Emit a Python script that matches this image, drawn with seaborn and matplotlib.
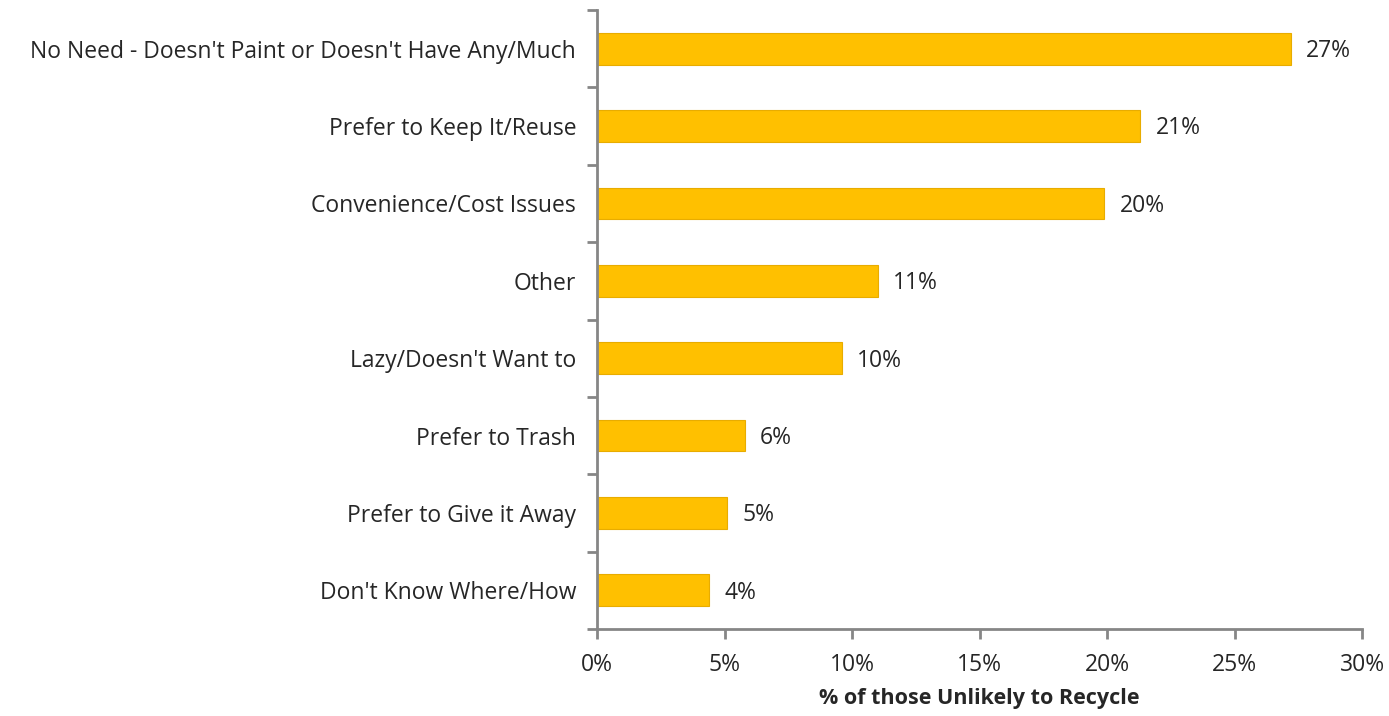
import pandas as pd
import seaborn as sns
from matplotlib import pyplot as plt
import matplotlib.ticker as ticker

reasons = ["No Need - Doesn't Paint or Doesn't Have Any/Much",
           "Prefer to Keep It/Reuse",
           "Convenience/Cost Issues",
           "Other",
           "Lazy/Doesn't Want to",
           "Prefer to Trash",
           "Prefer to Give it Away",
           "Don't Know Where/How"]
shares = [27.2, 21.3, 19.9, 11.0, 9.6, 5.8, 5.1, 4.4]
share_labels = ["27%", "21%", "20%", "11%", "10%", "6%", "5%", "4%"]

df = pd.DataFrame({"reason": reasons, "share": shares})

sns.set_style("white")
plt.rcParams['font.family'] = ['Open Sans', 'DejaVu Sans']
axis_grey = "#868686"
text_col = "#262626"
fs = 16.5

fig = plt.figure(figsize=(13.89, 7.16), dpi=100)
ax = fig.add_axes([0.4298, 0.1215, 0.5508, 0.8645])

sns.barplot(data=df, y="reason", x="share", orient="h", color="#FFC000",
            saturation=1, width=0.41, edgecolor="#E8AC00", linewidth=0.8, ax=ax)

# value labels to the right of each bar
for i, (v, lab) in enumerate(zip(shares, share_labels)):
    ax.text(v + 0.6, i + 0.03, lab, va="center", ha="left", fontsize=fs, color=text_col)

ax.set_xlim(0, 30)
ax.set_ylim(len(reasons) - 0.5, -0.5)
ax.xaxis.set_major_locator(ticker.MultipleLocator(5))
ax.xaxis.set_major_formatter(ticker.FuncFormatter(lambda x, p: f"{x:.0f}%"))

# excel style: y ticks sit between categories
ax.set_yticks([i - 0.5 for i in range(len(reasons) + 1)], minor=True)
ax.tick_params(axis="y", which="major", left=True, length=0, pad=15, labelsize=fs, labelcolor=text_col)
ax.tick_params(axis="y", which="minor", left=True, length=7, width=2, color=axis_grey, direction="out")
ax.tick_params(axis="x", which="major", bottom=True, length=7, width=2, color=axis_grey, direction="out",
               pad=10, labelsize=fs, labelcolor=text_col)

for side in ["top", "right"]:
    ax.spines[side].set_visible(False)
for side in ["left", "bottom"]:
    ax.spines[side].set_color(axis_grey)
    ax.spines[side].set_linewidth(2)

ax.set_ylabel("")
ax.set_xlabel("% of those Unlikely to Recycle", fontsize=15.5, fontweight="bold",
              color=text_col, labelpad=8)

fig.savefig("out.png", dpi=100)
